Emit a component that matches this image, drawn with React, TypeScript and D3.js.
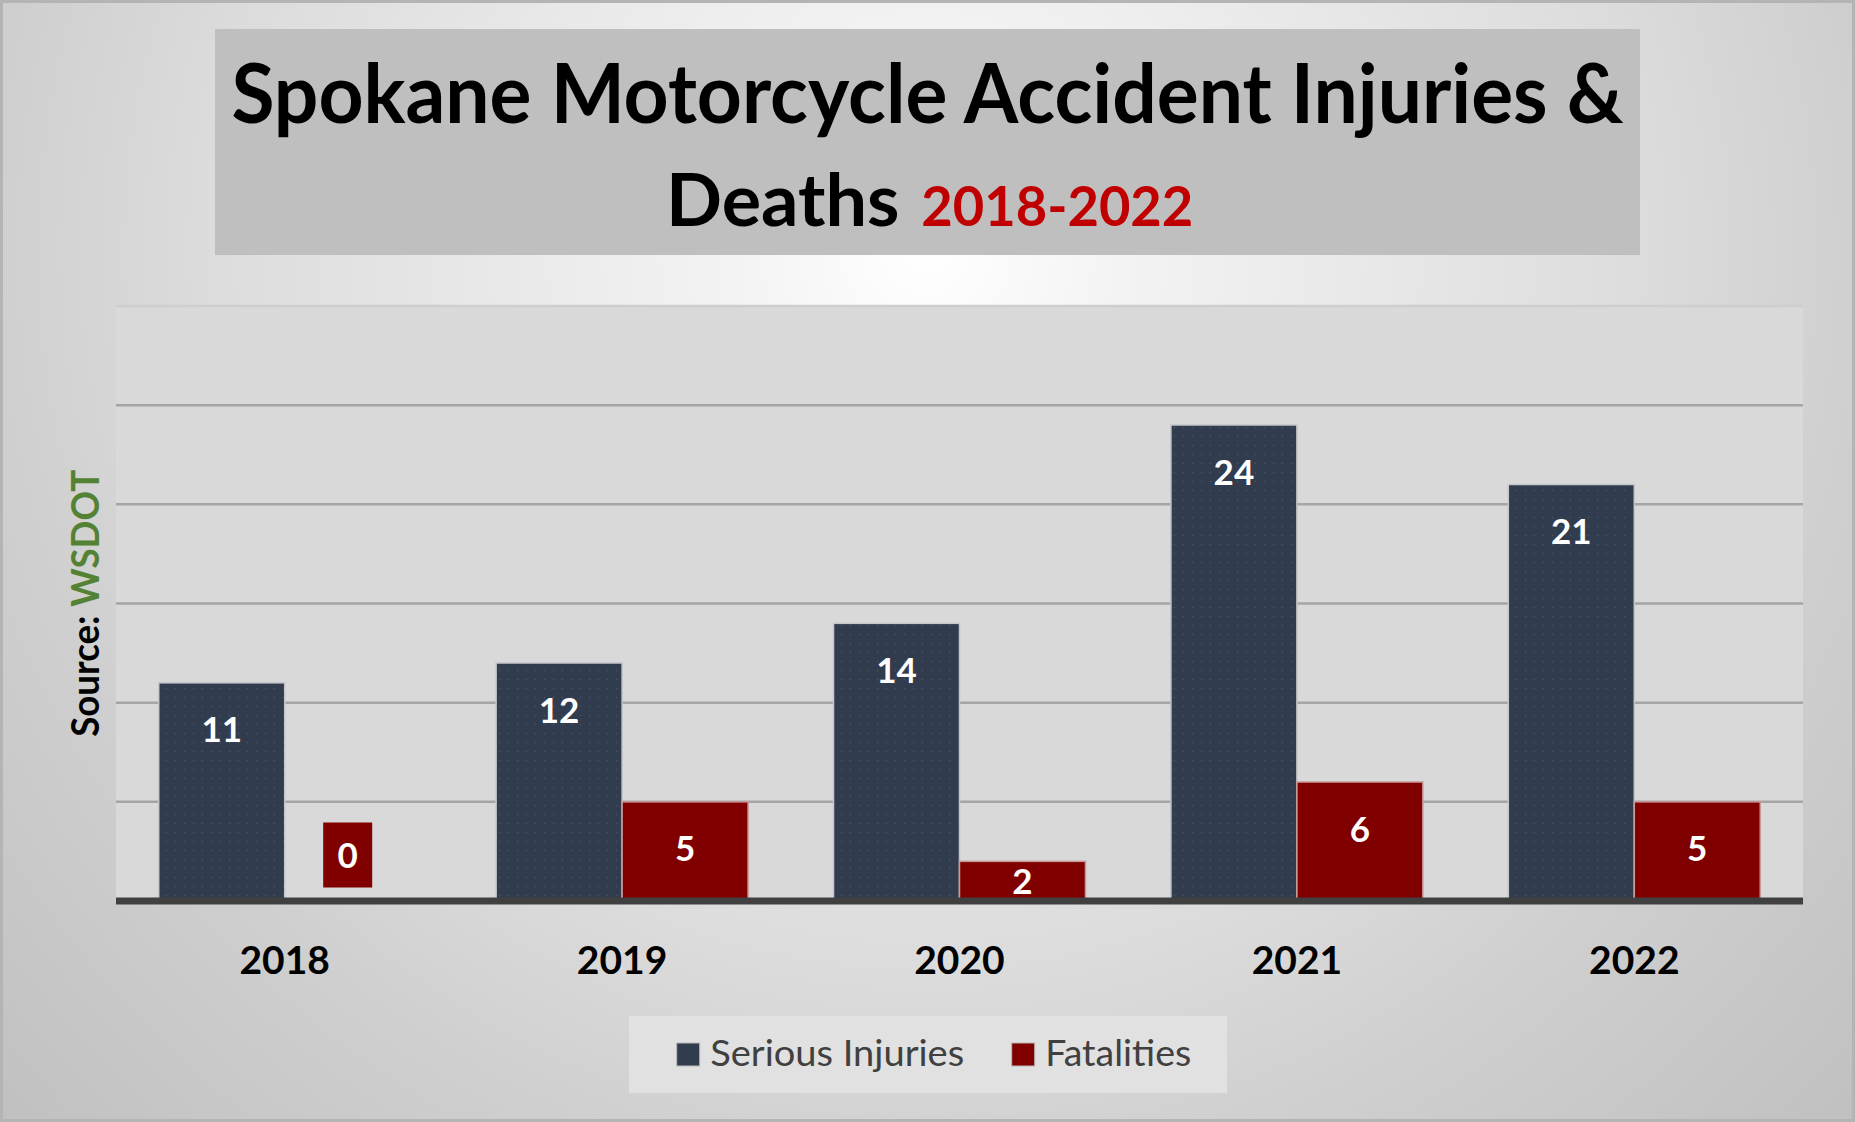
import { useEffect, useRef } from "react";
import * as d3 from "d3";

const years = ["2018", "2019", "2020", "2021", "2022"];
const seriousInjuries = [11, 12, 14, 24, 21];
const fatalities = [0, 5, 2, 6, 5];
const seriesNames = ["Serious Injuries", "Fatalities"];
const seriesColors = ["#323c4f", "#800000"];
const yTicks = [5, 10, 15, 20, 25, 30];

const W = 1855;
const H = 1122;
const FONT = "Lato, 'Open Sans', sans-serif";

export default function App() {
  const ref = useRef<SVGSVGElement | null>(null);

  useEffect(() => {
    document.body.style.margin = "0";
    if (!ref.current) return;
    const svg = d3.select(ref.current);
    svg.selectAll("*").remove();

    const plot = { left: 116, right: 1803, top: 306, bottom: 901 };

    const x0 = d3
      .scaleBand<string>()
      .domain(years)
      .range([plot.left, plot.right])
      .paddingInner(0.2533)
      .paddingOuter(0.1267);
    const x1 = d3
      .scaleBand<string>()
      .domain(seriesNames)
      .range([0, x0.bandwidth()]);
    const y = d3.scaleLinear().domain([0, 30]).range([plot.bottom, plot.top]);

    // background
    const defs = svg.append("defs");
    const grad = defs
      .append("radialGradient")
      .attr("id", "bg")
      .attr("gradientUnits", "userSpaceOnUse")
      .attr("cx", 927)
      .attr("cy", 250)
      .attr("r", 1300);
    [
      [0, "#ffffff"],
      [0.15, "#f3f3f3"],
      [0.55, "#dcdcdc"],
      [0.72, "#cfcfcf"],
      [1, "#bfbfbf"],
    ].forEach(([o, c]) => grad.append("stop").attr("offset", o).attr("stop-color", c));

    const pat = defs
      .append("pattern")
      .attr("id", "dots")
      .attr("patternUnits", "userSpaceOnUse")
      .attr("width", 9)
      .attr("height", 9);
    pat.append("circle").attr("cx", 4.5).attr("cy", 4.5).attr("r", 0.7).attr("fill", "rgba(255,255,255,0.13)");

    svg.append("rect").attr("width", W).attr("height", H).attr("fill", "url(#bg)");
    svg
      .append("rect")
      .attr("x", 1.5)
      .attr("y", 1.5)
      .attr("width", W - 3)
      .attr("height", H - 3)
      .attr("fill", "none")
      .attr("stroke", "#b4b4b4")
      .attr("stroke-width", 3);

    // title
    svg
      .append("rect")
      .attr("x", 215)
      .attr("y", 29)
      .attr("width", 1425)
      .attr("height", 226)
      .attr("fill", "#bfbfbf");
    svg
      .append("text")
      .attr("x", 927.5)
      .attr("y", 123)
      .attr("text-anchor", "middle")
      .attr("font-family", FONT)
      .attr("font-weight", 700)
      .attr("font-size", 83)
      .attr("textLength", 1392)
      .attr("lengthAdjust", "spacingAndGlyphs")
      .attr("fill", "#000")
      .text("Spokane Motorcycle Accident Injuries &");
    svg
      .append("text")
      .attr("x", 666)
      .attr("y", 226)
      .attr("font-family", FONT)
      .attr("font-weight", 700)
      .attr("font-size", 72.5)
      .attr("textLength", 233.5)
      .attr("lengthAdjust", "spacingAndGlyphs")
      .attr("fill", "#000")
      .text("Deaths");
    svg
      .append("text")
      .attr("x", 921.3)
      .attr("y", 226)
      .attr("font-family", FONT)
      .attr("font-weight", 700)
      .attr("font-size", 56)
      .attr("textLength", 272)
      .attr("lengthAdjust", "spacingAndGlyphs")
      .attr("fill", "#c00000")
      .text("2018-2022");

    // plot area
    svg
      .append("rect")
      .attr("x", plot.left)
      .attr("y", plot.top)
      .attr("width", plot.right - plot.left)
      .attr("height", plot.bottom - plot.top)
      .attr("fill", "#d9d9d9");

    svg
      .append("g")
      .selectAll("line")
      .data(yTicks)
      .join("line")
      .attr("x1", plot.left)
      .attr("x2", plot.right)
      .attr("y1", (d) => y(d))
      .attr("y2", (d) => y(d))
      .attr("stroke", (d) => (d === 30 ? "#cecece" : "#a5a5a5"))
      .attr("stroke-width", 2.5);

    // bars
    const series = [seriousInjuries, fatalities];
    const barData = years.flatMap((yr, i) =>
      seriesNames.map((s, j) => ({ yr, s, j, v: series[j][i] }))
    );

    const bars = svg.append("g");
    bars
      .selectAll("rect.bar")
      .data(barData.filter((d) => d.v > 0))
      .join("rect")
      .attr("class", "bar")
      .attr("x", (d) => x0(d.yr)! + x1(d.s)!)
      .attr("y", (d) => y(d.v))
      .attr("width", x1.bandwidth())
      .attr("height", (d) => y(0) - y(d.v))
      .attr("fill", (d) => seriesColors[d.j])
      .attr("stroke", (d) => (d.j === 0 ? "#c4c6ca" : "#c89a9a"))
      .attr("stroke-width", 1.5);
    bars
      .selectAll("rect.tex")
      .data(barData.filter((d) => d.v > 0 && d.j === 0))
      .join("rect")
      .attr("class", "tex")
      .attr("x", (d) => x0(d.yr)! + x1(d.s)! + 1)
      .attr("y", (d) => y(d.v) + 1)
      .attr("width", x1.bandwidth() - 2)
      .attr("height", (d) => y(0) - y(d.v) - 1)
      .attr("fill", "url(#dots)");

    // zero-value label box
    const boxW = 49;
    const boxH = 65;
    bars
      .selectAll("rect.zero")
      .data(barData.filter((d) => d.v === 0))
      .join("rect")
      .attr("class", "zero")
      .attr("x", (d) => x0(d.yr)! + x1(d.s)! + x1.bandwidth() / 2 - boxW / 2)
      .attr("y", y(0) - 46 - boxH / 2)
      .attr("width", boxW)
      .attr("height", boxH)
      .attr("fill", (d) => seriesColors[d.j]);

    const labelCenter = (v: number) => {
      if (v === 0) return y(0) - 46;
      const h = y(0) - y(v);
      return h < boxH ? (y(v) + y(0)) / 2 : y(v) + 47;
    };

    bars
      .selectAll("text")
      .data(barData)
      .join("text")
      .attr("x", (d) => x0(d.yr)! + x1(d.s)! + x1.bandwidth() / 2)
      .attr("y", (d) => labelCenter(d.v) + 12.5)
      .attr("text-anchor", "middle")
      .attr("font-family", FONT)
      .attr("font-weight", 700)
      .attr("font-size", 35)
      .attr("fill", "#fff")
      .text((d) => String(d.v));

    // baseline
    svg
      .append("line")
      .attr("x1", plot.left)
      .attr("x2", plot.right)
      .attr("y1", y(0))
      .attr("y2", y(0))
      .attr("stroke", "#404040")
      .attr("stroke-width", 7);

    // x labels
    svg
      .append("g")
      .selectAll("text")
      .data(years)
      .join("text")
      .attr("x", (d) => x0(d)! + x0.bandwidth() / 2)
      .attr("y", 974)
      .attr("text-anchor", "middle")
      .attr("font-family", FONT)
      .attr("font-weight", 700)
      .attr("font-size", 39)
      .attr("fill", "#000")
      .text((d) => d);

    // source
    const src = svg
      .append("text")
      .attr("transform", "translate(99.3,603.3) rotate(-90)")
      .attr("text-anchor", "middle")
      .attr("font-family", FONT)
      .attr("font-weight", 700)
      .attr("font-size", 38.5)
      .attr("textLength", 267)
      .attr("lengthAdjust", "spacingAndGlyphs");
    src.append("tspan").attr("fill", "#000").text("Source: ");
    src.append("tspan").attr("fill", "#548235").text("WSDOT");

    // legend
    const leg = svg.append("g");
    leg
      .append("rect")
      .attr("x", 629)
      .attr("y", 1016)
      .attr("width", 598)
      .attr("height", 77)
      .attr("fill", "#e1e1e1");
    const legX = [676.7, 1011.7];
    const legLen = [254, 146];
    seriesNames.forEach((s, j) => {
      leg
        .append("rect")
        .attr("x", legX[j])
        .attr("y", 1043)
        .attr("width", 23)
        .attr("height", 23)
        .attr("fill", seriesColors[j])
        .attr("stroke", "#b8b8b8")
        .attr("stroke-width", 1);
      leg
        .append("text")
        .attr("x", legX[j] + 33.5)
        .attr("y", 1066)
        .attr("font-family", FONT)
        .attr("font-size", 36)
        .attr("fill", "#404040")
        .attr("textLength", legLen[j])
        .attr("lengthAdjust", "spacingAndGlyphs")
        .text(s);
    });
  }, []);

  return <svg ref={ref} width={W} height={H} style={{ display: "block" }} />;
}
